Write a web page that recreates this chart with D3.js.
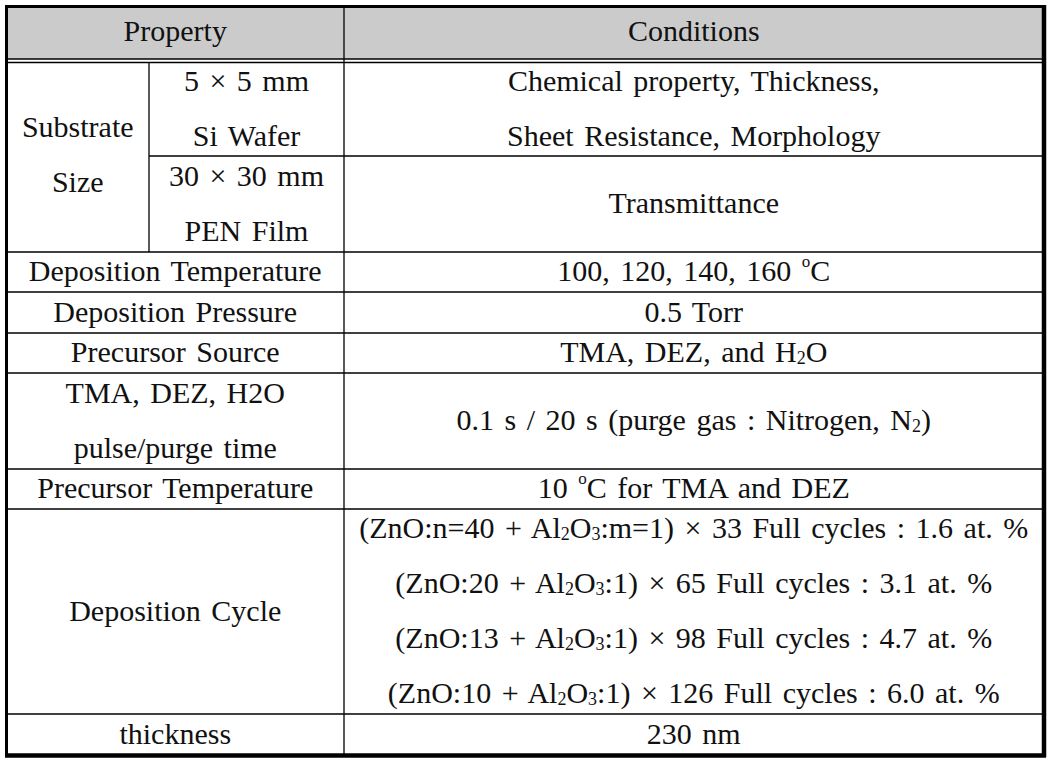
<!DOCTYPE html>
<html>
<head>
<meta charset="utf-8">
<script src="https://cdn.jsdelivr.net/npm/d3@7"></script>
<style>
  html, body { margin: 0; padding: 0; background: #fff; }
  svg text { font-family: "Liberation Serif", "DejaVu Serif", serif; fill: #111; word-spacing: 3px; }
</style>
</head>
<body>
<div id="table"></div>
<script>
// table content ("_x" = subscript, "^x" = superscript)
var headers = ["Property", "Conditions"];
var substrateLabel = ["Substrate", "Size"];
var substrateSizes = [["5 × 5 mm", "Si Wafer"], ["30 × 30 mm", "PEN Film"]];
var substrateUses = [["Chemical property, Thickness,", "Sheet Resistance, Morphology"], ["Transmittance"]];
var properties = [
  ["Deposition Temperature"],
  ["Deposition Pressure"],
  ["Precursor Source"],
  ["TMA, DEZ, H2O", "pulse/purge time"],
  ["Precursor Temperature"],
  ["Deposition Cycle"],
  ["thickness"]
];
var conditions = [
  ["100, 120, 140, 160 ^oC"],
  ["0.5 Torr"],
  ["TMA, DEZ, and H_2O"],
  ["0.1 s / 20 s (purge gas : Nitrogen, N_2)"],
  ["10 ^oC for TMA and DEZ"],
  ["(ZnO:n=40 + Al_2O_3:m=1) × 33 Full cycles : 1.6 at. %",
   "(ZnO:20 + Al_2O_3:1) × 65 Full cycles : 3.1 at. %",
   "(ZnO:13 + Al_2O_3:1) × 98 Full cycles : 4.7 at. %",
   "(ZnO:10 + Al_2O_3:1) × 126 Full cycles : 6.0 at. %"],
  ["230 nm"]
];

// layout
var W = 1057, H = 764;
var frameL = 6.5, frameR = 1043.5, frameT = 6.5, frameB = 755;
var colMid = 344, colSub = 149;
var headBottom = 59, bodyTop = 62.5;
var subRows = [bodyTop, 156, 252];
var rowEdges = [252, 292, 333, 373, 469, 509, 714, frameB];
var lineGap = 55, fontSize = 30;

var svg = d3.select("#table").append("svg")
  .attr("width", W).attr("height", H);

svg.append("rect")
  .attr("x", frameL).attr("y", frameT)
  .attr("width", frameR - frameL).attr("height", headBottom - frameT)
  .attr("fill", "#cbcbcb");

var richText = function(g, str, cx, y) {
  var t = g.append("text")
    .attr("x", cx).attr("y", y)
    .attr("text-anchor", "middle")
    .attr("font-size", fontSize);
  var shift = 0;
  str.split(/([_^]\w)/).forEach(function(p) {
    if (!p) return;
    var want = 0, size = fontSize, txt = p;
    if (p[0] === "_" && p.length === 2) { want = 2; size = 18; txt = p[1]; }
    else if (p[0] === "^" && p.length === 2) { want = -14; size = 17; txt = p[1]; }
    t.append("tspan")
      .attr("dy", want - shift)
      .attr("font-size", size)
      .text(txt);
    shift = want;
  });
};

var cellText = function(lines, x0, x1, y0, y1, offset) {
  var cx = (x0 + x1) / 2, cy = (y0 + y1) / 2;
  var n = lines.length;
  lines.forEach(function(line, i) {
    var y = cy + (i - (n - 1) / 2) * lineGap + (offset === undefined ? 9 : offset);
    richText(svg, line, cx, y);
  });
};

// header
cellText([headers[0]], frameL, colMid, frameT, headBottom, 8);
cellText([headers[1]], colMid, frameR, frameT, headBottom, 8);

// substrate block
cellText(substrateLabel, frameL, colSub, subRows[0], subRows[2], 7);
substrateSizes.forEach(function(d, i) {
  cellText(d, colSub, colMid, subRows[i], subRows[i + 1]);
  cellText(substrateUses[i], colMid, frameR, subRows[i], subRows[i + 1]);
});

// remaining rows
properties.forEach(function(d, i) {
  cellText(d, frameL, colMid, rowEdges[i], rowEdges[i + 1]);
  cellText(conditions[i], colMid, frameR, rowEdges[i], rowEdges[i + 1]);
});

// grid lines
var line = function(x1, y1, x2, y2, w) {
  svg.append("line")
    .attr("x1", x1).attr("y1", y1).attr("x2", x2).attr("y2", y2)
    .attr("stroke", "#000").attr("stroke-width", w || 1.3);
};
line(frameL, headBottom, frameR, headBottom);
line(frameL, bodyTop, frameR, bodyTop);
line(colMid, frameT, colMid, frameB);
line(colSub, bodyTop, colSub, subRows[2]);
line(colSub, subRows[1], frameR, subRows[1]);
rowEdges.slice(0, -1).forEach(function(y) { line(frameL, y, frameR, y); });

// outer frame, heavier on the right and bottom
line(frameL, frameT - 1.5, frameL, frameB + 2, 3);
line(frameL - 1.5, frameT, frameR, frameT, 3);
line(frameR + 0.5, frameT - 1.5, frameR + 0.5, frameB + 2, 4.5);
line(frameL - 1.5, frameB + 0.5, frameR + 2.5, frameB + 0.5, 4.5);
</script>
</body>
</html>
